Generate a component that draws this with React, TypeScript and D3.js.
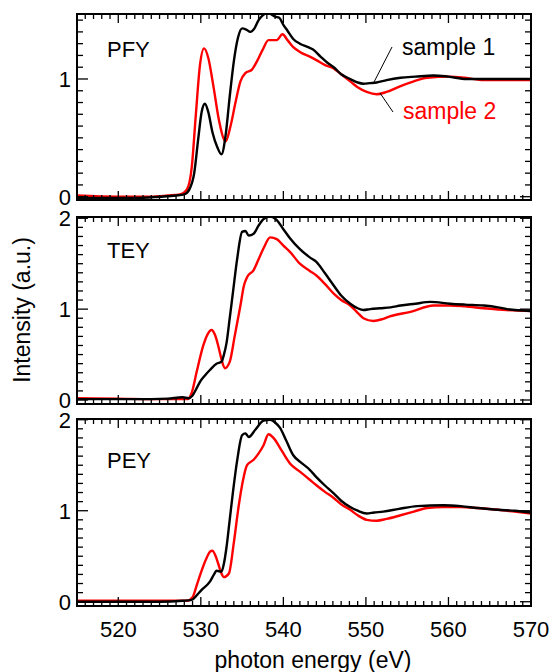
import React from "react";
import * as d3 from "d3";

// photon energy (eV), intensity (a.u.)
const pfy1: [number, number][] = [
  [515, -0.01], [518, -0.01], [522, -0.01], [525, 0.0], [527, 0.01], [528, 0.02], [528.6, 0.06],
  [529.2, 0.2], [529.7, 0.5], [530.1, 0.72], [530.5, 0.79], [530.9, 0.72], [531.4, 0.55], [532, 0.42],
  [532.5, 0.36], [533, 0.52], [533.5, 0.85], [534, 1.15], [534.5, 1.35], [535, 1.43], [535.5, 1.42],
  [536, 1.4], [536.5, 1.43], [537, 1.5], [537.5, 1.54], [538, 1.56], [538.5, 1.55], [539, 1.53],
  [539.5, 1.52], [540, 1.46], [540.5, 1.41], [541.2, 1.34], [542, 1.3], [543, 1.27], [543.6, 1.25],
  [544.5, 1.19], [545.3, 1.14], [546.1, 1.1], [547, 1.04], [548.1, 1.0], [549, 0.97], [549.7, 0.96],
  [550.5, 0.965], [551.3, 0.97], [552.5, 0.99], [554.2, 1.01], [556, 1.02], [558.2, 1.03], [560, 1.02],
  [562.2, 1.0], [564, 1.0], [566.3, 1.0], [568, 1.0], [570, 1.0],
];
const pfy2: [number, number][] = [
  [515, 0.01], [520, 0.0], [524, 0.0], [526, 0.01], [527.5, 0.02], [528.3, 0.06], [528.9, 0.25],
  [529.4, 0.7], [529.9, 1.12], [530.4, 1.26], [530.9, 1.18], [531.5, 0.95], [532.2, 0.65], [533, 0.47],
  [533.6, 0.6], [534.2, 0.8], [534.8, 0.98], [535.4, 1.05], [536.2, 1.08], [536.8, 1.15], [537.5, 1.25],
  [538.2, 1.33], [539.2, 1.33], [539.9, 1.38], [540.5, 1.33], [541.2, 1.27], [542, 1.23], [543.2, 1.19],
  [544, 1.16], [545, 1.12], [546.1, 1.09], [547, 1.04], [548.1, 0.98], [549, 0.93], [550.1, 0.89],
  [551.3, 0.87], [552.5, 0.89], [554.2, 0.94], [555.8, 0.98], [557.4, 1.01], [560.2, 1.02], [562, 1.01],
  [564.3, 0.99], [567, 0.99], [570, 0.99],
];
const tey1: [number, number][] = [
  [515, 0.01], [520, 0.01], [524, 0.01], [526, 0.015], [527.8, 0.03], [528.5, 0.02], [529, 0.05],
  [529.5, 0.13], [529.9, 0.2], [530.5, 0.27], [531.1, 0.33], [531.9, 0.4], [532.5, 0.42], [532.8, 0.5],
  [533.1, 0.62], [533.5, 0.9], [533.9, 1.19], [534.4, 1.55], [535, 1.85], [535.4, 1.86], [535.8, 1.81],
  [536.4, 1.83], [537, 1.92], [537.6, 1.99], [538.4, 2.02], [539.2, 1.98], [540, 1.88], [540.8, 1.78],
  [542, 1.66], [543.2, 1.57], [544, 1.52], [545, 1.4], [546.1, 1.26], [547, 1.15], [548.1, 1.06],
  [549, 1.01], [549.7, 0.99], [550.5, 1.0], [551.7, 1.01], [553, 1.02], [554.2, 1.04], [556, 1.06],
  [557.8, 1.08], [560.2, 1.06], [562, 1.05], [564.3, 1.04], [566, 1.02], [567.1, 1.0], [570, 0.98],
];
const tey2: [number, number][] = [
  [515, 0.02], [520, 0.015], [524, 0.01], [527, 0.01], [528.4, 0.01], [528.9, 0.08], [529.5, 0.31],
  [530.3, 0.6], [530.8, 0.72], [531.3, 0.77], [531.7, 0.72], [532.1, 0.6], [532.5, 0.45], [532.9, 0.35],
  [533.5, 0.42], [534.1, 0.7], [534.8, 1.04], [535.2, 1.25], [535.6, 1.35], [536.4, 1.43], [537, 1.55],
  [537.6, 1.67], [538.4, 1.79], [539.2, 1.77], [540, 1.7], [540.8, 1.63], [542, 1.5], [543.2, 1.42],
  [544, 1.37], [545, 1.28], [546.1, 1.17], [547, 1.1], [548.1, 1.04], [549, 0.96], [549.7, 0.9],
  [550.9, 0.87], [552, 0.89], [552.9, 0.92], [555.4, 0.97], [558.2, 1.04], [560.2, 1.04], [562, 1.03],
  [564.3, 1.01], [567, 0.99], [570, 0.98],
];
const pey1: [number, number][] = [
  [515, 0.0], [520, 0.0], [525, 0.0], [527.8, 0.01], [528.9, 0.02], [529.5, 0.07], [530.1, 0.13],
  [531.1, 0.22], [531.6, 0.3], [531.9, 0.34], [532.5, 0.33], [532.8, 0.42], [533.1, 0.59], [533.5, 0.9],
  [533.9, 1.21], [534.4, 1.55], [535, 1.83], [535.4, 1.85], [535.8, 1.81], [536.6, 1.89], [537.6, 1.99],
  [538.4, 2.0], [539, 1.97], [539.6, 1.91], [540.4, 1.76], [541.2, 1.61], [542, 1.54], [543.2, 1.45],
  [544, 1.37], [545, 1.28], [546.1, 1.19], [547, 1.11], [548.1, 1.04], [549, 1.0], [550.1, 0.97],
  [551, 0.98], [552.1, 0.99], [554, 1.02], [556.2, 1.05], [559.4, 1.06], [561.5, 1.05], [563.5, 1.03],
  [566, 1.01], [568, 1.0], [570, 0.98],
];
const pey2: [number, number][] = [
  [515, 0.01], [520, 0.01], [525, 0.01], [528.3, 0.01], [529, 0.05], [529.5, 0.18], [529.9, 0.29],
  [530.7, 0.48], [531.1, 0.55], [531.4, 0.56], [531.8, 0.5], [532.1, 0.42], [532.5, 0.31], [532.8, 0.27],
  [533.4, 0.31], [534, 0.65], [534.6, 1.06], [535.1, 1.33], [535.6, 1.5], [536.4, 1.56], [537, 1.63],
  [537.6, 1.72], [538.2, 1.84], [538.8, 1.8], [539.8, 1.66], [540.8, 1.52], [542, 1.43], [543.2, 1.34],
  [544, 1.28], [545, 1.21], [546.1, 1.14], [547, 1.07], [548.1, 1.01], [549, 0.95], [550.1, 0.9],
  [551.3, 0.89], [552.5, 0.91], [554.2, 0.95], [555.8, 0.99], [557.4, 1.03], [559.4, 1.04], [561.5, 1.04],
  [563.5, 1.03], [566, 1.01], [568, 0.99], [570, 0.97],
];

const panelNames = ["PFY", "TEY", "PEY"];
const xTicks = [520, 530, 540, 550, 560, 570];
const legendLabels = ["sample 1", "sample 2"];

const W = 552;
const H = 672;
const FONT = "'Liberation Sans', Arial, Helvetica, sans-serif";
const left = 77;
const right = 531;

const panels = [
  { name: panelNames[0], s1: pfy1, s2: pfy2, top: 14, bottom: 200, domain: [-0.028, 1.552], yTicks: [0, 1] },
  { name: panelNames[1], s1: tey1, s2: tey2, top: 217, bottom: 404, domain: [-0.044, 2.014], yTicks: [0, 1, 2] },
  { name: panelNames[2], s1: pey1, s2: pey2, top: 419, bottom: 606, domain: [-0.047, 2.008], yTicks: [0, 1, 2] },
];

const x = d3.scaleLinear().domain([515, 570]).range([left, right]);
const minorX = d3.range(516, 571, 1);

export default function App() {
  return (
    <svg width={W} height={H} style={{ display: "block", position: "absolute", left: 0, top: 0 }} fontFamily={FONT}>
      <rect width={W} height={H} fill="#fff" />
      <defs>
        {panels.map((p, i) => (
          <clipPath id={`clip${i}`} key={i}>
            <rect x={left} y={p.top} width={right - left} height={p.bottom - p.top} />
          </clipPath>
        ))}
      </defs>
      {panels.map((p, i) => {
        const y = d3.scaleLinear().domain(p.domain).range([p.bottom, p.top]);
        const line = d3
          .line<[number, number]>()
          .x((d) => x(d[0]))
          .y((d) => y(d[1]))
          .curve(d3.curveMonotoneX);
        const minorY = d3.range(0, Math.floor(p.domain[1] * 10) + 1).map((k) => k / 10);
        return (
          <g key={p.name}>
            <g clipPath={`url(#clip${i})`}>
              <path d={line(p.s2) || ""} fill="none" stroke="#ff0000" strokeWidth={2.4} strokeLinejoin="round" />
              <path d={line(p.s1) || ""} fill="none" stroke="#000" strokeWidth={2.4} strokeLinejoin="round" />
            </g>
            {/* x ticks, inward on top and bottom */}
            {minorX.map((e) => {
              const len = e % 10 === 0 ? 9 : 5;
              return (
                <g key={e} stroke="#000" strokeWidth={1.3}>
                  <line x1={x(e)} x2={x(e)} y1={p.bottom} y2={p.bottom - len} />
                  <line x1={x(e)} x2={x(e)} y1={p.top} y2={p.top + len} />
                </g>
              );
            })}
            {/* y ticks, inward on left and right */}
            {minorY.map((v) => {
              const major = Math.abs(v - Math.round(v)) < 1e-6;
              const len = major ? 11 : 6;
              return (
                <g key={v} stroke="#000" strokeWidth={1.3}>
                  <line x1={left} x2={left + len} y1={y(v)} y2={y(v)} />
                  <line x1={right} x2={right - len} y1={y(v)} y2={y(v)} />
                </g>
              );
            })}
            {p.yTicks.map((v) => (
              <text key={v} x={71} y={y(v) + 8} textAnchor="end" fontSize={22}>
                {v}
              </text>
            ))}
            <rect
              x={left}
              y={p.top}
              width={right - left}
              height={p.bottom - p.top}
              fill="none"
              stroke="#000"
              strokeWidth={2}
            />
            <text x={107} y={i === 0 ? 57 : i === 1 ? 258 : 468} fontSize={22}>
              {p.name}
            </text>
          </g>
        );
      })}
      {xTicks.map((t) => (
        <text key={t} x={x(t)} y={637} textAnchor="middle" fontSize={22}>
          {t}
        </text>
      ))}
      <text x={313} y={668} textAnchor="middle" fontSize={23}>
        photon energy (eV)
      </text>
      <text transform="translate(30,310) rotate(-90)" textAnchor="middle" fontSize={23}>
        Intensity (a.u.)
      </text>
      {/* legend with leader lines */}
      <line x1={392} y1={47} x2={373} y2={84} stroke="#000" strokeWidth={1} />
      <line x1={380} y1={93} x2={393} y2={112} stroke="#000" strokeWidth={1} />
      <text x={402} y={55} fontSize={23} fill="#000">
        {legendLabels[0]}
      </text>
      <text x={403} y={119} fontSize={23} fill="#ff0000">
        {legendLabels[1]}
      </text>
    </svg>
  );
}
